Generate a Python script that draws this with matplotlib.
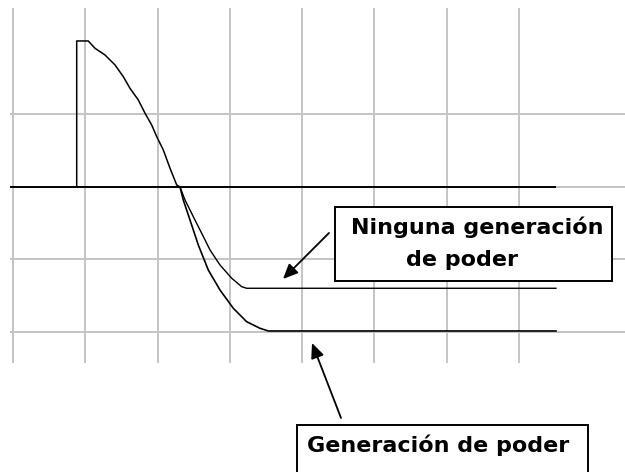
import matplotlib
matplotlib.use("Agg")
import matplotlib.pyplot as plt
from matplotlib.patches import Rectangle

# Shared part of the trace: pulse then descending to the zero crossing
common_x = [0.881, 0.881, 1.041, 1.134, 1.272, 1.411, 1.526, 1.618, 1.733, 1.826,
            1.918, 1.988, 2.079, 2.172, 2.264, 2.310]
common_y = [0.000, 2.014, 2.014, 1.913, 1.821, 1.683, 1.521, 1.361, 1.200, 1.017,
            0.855, 0.694, 0.510, 0.258, 0.028, 0.000]

# "Ninguna generación de poder" branch
nogen_x = [2.310, 2.379, 2.494, 2.610, 2.725, 2.863, 3.025, 3.163, 3.232, 7.510]
nogen_y = [0.000, -0.179, -0.410, -0.639, -0.869, -1.076, -1.259, -1.375, -1.397, -1.397]

# "Generación de poder" branch
gen_x = [2.310, 2.355, 2.448, 2.563, 2.701, 2.863, 3.047, 3.232, 3.416, 3.531, 7.510]
gen_y = [0.000, -0.179, -0.455, -0.800, -1.145, -1.421, -1.673, -1.858, -1.949, -1.986, -1.986]

grid_x = [0, 1, 2, 3, 4, 5, 6, 7]
grid_y = [1, 0, -1, -2]

label_nogen_1 = "Ninguna generación"
label_nogen_2 = "de poder"
label_gen = "Generación de poder"

fig = plt.figure(figsize=(6.25, 4.72), dpi=100)
ax = fig.add_axes([0, 0, 1, 1])
ax.set_xlim(-0.18, 8.465)
ax.set_ylim(-3.931, 2.579)
ax.axis("off")

gc = "#c4c4c4"
ax.vlines(grid_x, -2.43, 2.47, colors=gc, lw=1.4, zorder=1)
ax.hlines(grid_y, -0.04, 8.47, colors=gc, lw=1.4, zorder=1)
ax.hlines([0], -0.04, 7.51, colors="black", lw=1.4, zorder=2)

ax.plot(common_x, common_y, color="black", lw=1.1, zorder=3)
ax.plot(nogen_x, nogen_y, color="black", lw=1.0, zorder=3)
ax.plot(gen_x, gen_y, color="black", lw=1.2, zorder=3)

font = dict(family=["DejaVu Sans"], fontweight="bold", fontsize=16, color="black")

# Box 1
ax.add_patch(Rectangle((4.454, -1.297), 8.285 - 4.454, 1.297 - 0.276,
                       facecolor="white", edgecolor="black", lw=1.4, zorder=4))
ax.text(6.418, -0.552, label_nogen_1, ha="center", va="center", zorder=5, **font)
ax.text(6.210, -1.007, label_nogen_2, ha="center", va="center", zorder=5, **font)

# Box 2
ax.add_patch(Rectangle((3.928, -4.3), 7.953 - 3.928, 4.3 - 3.283,
                       facecolor="white", edgecolor="black", lw=1.4, zorder=4, clip_on=True))
ax.text(5.885, -3.559, label_gen, ha="center", va="center", zorder=5, **font)

arrow = dict(arrowstyle="-|>,head_length=0.9,head_width=0.4", color="black", lw=1.3,
             shrinkA=0, shrinkB=0)
ax.annotate("", xy=(3.734, -1.269), xytext=(4.371, -0.634), arrowprops=arrow, zorder=5)
ax.annotate("", xy=(4.136, -2.152), xytext=(4.537, -3.186), arrowprops=arrow, zorder=5)

fig.savefig("out.png", dpi=100, facecolor="white")
